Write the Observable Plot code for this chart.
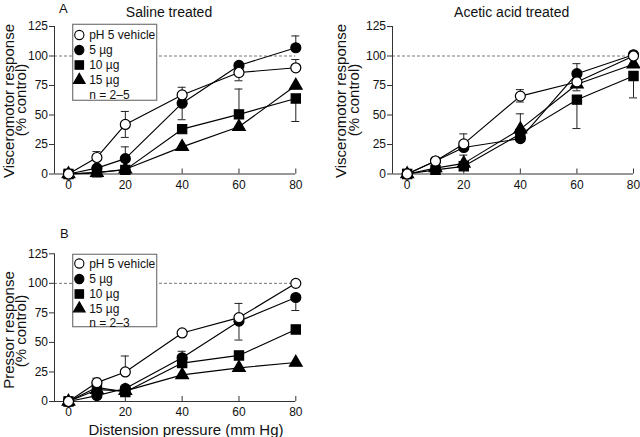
<!DOCTYPE html>
<html><head><meta charset="utf-8">
<script src="https://cdn.jsdelivr.net/npm/d3@7"></script>
<script src="https://cdn.jsdelivr.net/npm/@observablehq/plot@0.6"></script>
<style>
body{margin:0;background:#fff;}
#chart{position:relative;width:640px;height:437px;overflow:hidden;background:#fff;font-family:"Liberation Sans",Arial,Helvetica,sans-serif;}
#chart > svg{position:absolute;}
</style></head><body><div id="chart"></div>
<script>
// ---------- data ----------
const pressures = [0, 10, 20, 40, 60, 80];
const xTicks = [0, 20, 40, 60, 80];
const yTicks = [0, 25, 50, 75, 100, 125];
const seriesNames = ["pH 5 vehicle", "5 µg", "10 µg", "15 µg"];

// Panel A, saline treated (visceromotor response, % control)
const salineVehicle = [0, 14, 42, 67, 86, 90];
const saline5 = [0, 5, 13, 60, 92, 107];
const saline10 = [0, 1.5, 3.5, 38, 50.5, 64];
const saline15 = [0, 1, 4, 23, 40, 75];
const salineErr = [
  {x: 0, s: 0, end: 4}, {x: 10, s: 0, end: 19}, {x: 20, s: 0, end: 53}, {x: 20, s: 0, end: 31},
  {x: 40, s: 0, end: 73.5}, {x: 60, s: 0, end: 79}, {x: 80, s: 0, end: 97},
  {x: 20, s: 1, end: 23}, {x: 40, s: 1, end: 46}, {x: 80, s: 1, end: 117},
  {x: 60, s: 2, end: 72}, {x: 80, s: 2, end: 44.5}
];

// Panel A, acetic acid treated
const aceticVehicle = [0, 11, 25.5, 66, 78, 100];
const acetic5 = [0, 11, 22.5, 30, 85, 101];
const acetic10 = [0, 3.5, 6.5, 34, 63, 83];
const acetic15 = [0, 5, 9, 38, 76, 93];
const aceticErr = [
  {x: 0, s: 0, end: 4}, {x: 20, s: 0, end: 34}, {x: 20, s: 3, end: 16},
  {x: 40, s: 0, end: 71.5}, {x: 40, s: 0, end: 61}, {x: 40, s: 3, end: 51},
  {x: 60, s: 1, end: 93.5}, {x: 60, s: 2, end: 38.5}, {x: 60, s: 3, end: 70.5},
  {x: 80, s: 2, end: 64.5}
];

// Panel B, pressor response
const pressorVehicle = [0, 16, 25, 58, 71, 100];
const pressor5 = [0, 5, 11, 37, 68, 88];
const pressor10 = [0, 12, 8, 32.5, 39, 61];
const pressor15 = [0, 10, 9, 22.5, 28.5, 33];
const pressorErr = [
  {x: 0, s: 0, end: 4}, {x: 10, s: 0, end: 19.7}, {x: 20, s: 0, end: 38.5},
  {x: 40, s: 1, end: 42.5}, {x: 60, s: 0, end: 83}, {x: 60, s: 1, end: 52}, {x: 80, s: 1, end: 77}
];

// ---------- styles ----------
const FONT = '"Liberation Sans", Arial, Helvetica, sans-serif';
const symStyles = [
  {symbol: "circle", fill: "white", r: 5},
  {symbol: "circle", fill: "black", r: 5},
  {symbol: "square", fill: "black", r: 5.2},
  {symbol: "triangle", fill: "black", r: 4.7}
];

function toRows(seriesList) {
  const rows = [];
  seriesList.forEach((vals, s) => vals.forEach((v, i) => rows.push({x: pressures[i], y: v, s})));
  return rows;
}

function makePanel(o) {
  const rows = toRows(o.series);
  const errs = o.errs.map(e => ({...e, y: o.series[e.s][pressures.indexOf(e.x)]}));
  const pxPerX = (o.x80 - o.x0) / 80;
  const xmin = -(o.x0 - o.axisX) / pxPerX;
  const plotH = o.height - o.mTop - o.mBottom;
  const pxPerY = plotH / 125;
  const capHalf = 4 / pxPerX;
  const tickLen = 5 / pxPerY;
  const marks = [
    Plot.ruleY([100], {x1: xmin, x2: 80, stroke: "#777", strokeWidth: 1, strokeDasharray: "3,2"}),
    Plot.ruleX([xmin], {y1: 0, y2: 125, stroke: "#333"}),
    Plot.ruleY([0], {x1: xmin, x2: 80, stroke: "#333"}),
    Plot.ruleX(xTicks, {y1: 0, y2: tickLen, stroke: "#333"}),
    Plot.axisY({ticks: yTicks, tickSize: 5, tickPadding: 1.5, label: null, fontSize: 12, stroke: "#333"}),
    Plot.axisX({ticks: xTicks, tickSize: 0, tickPadding: 6, label: null, fontSize: 12}),
    Plot.ruleX(errs, {x: "x", y1: "y", y2: "end", stroke: "#222", strokeWidth: 1}),
    Plot.ruleY(errs, {y: "end", x1: d => d.x - capHalf, x2: d => d.x + capHalf, stroke: "#222", strokeWidth: 1}),
    Plot.line(rows, {x: "x", y: "y", z: "s", stroke: "black", strokeWidth: 1.15})
  ];
  [3, 2, 1, 0].forEach(s => {
    const st = symStyles[s];
    marks.push(Plot.dot(rows.filter(d => d.s === s), {x: "x", y: "y", symbol: st.symbol, r: st.r, fill: st.fill, stroke: "black", strokeWidth: 1.2}));
  });
  const svg = Plot.plot({
    width: o.width, height: o.height,
    marginLeft: o.axisX - o.left, marginRight: o.left + o.width - o.x80,
    marginTop: o.mTop, marginBottom: o.mBottom,
    x: {domain: [xmin, 80], axis: null},
    y: {domain: [0, 125], axis: null},
    style: {fontFamily: FONT, fontSize: "12px", color: "#111", background: "transparent", overflow: "visible"},
    marks
  });
  svg.style.left = o.left + "px";
  svg.style.top = o.top + "px";
  document.getElementById("chart").appendChild(svg);
}

makePanel({series: [salineVehicle, saline5, saline10, saline15], errs: salineErr,
  left: 0, top: 0, width: 320, height: 200, axisX: 54, x0: 68, x80: 295.3, mTop: 26, mBottom: 26.5});
makePanel({series: [aceticVehicle, acetic5, acetic10, acetic15], errs: aceticErr,
  left: 320, top: 0, width: 320, height: 200, axisX: 392, x0: 406.7, x80: 633, mTop: 26, mBottom: 26.5});
makePanel({series: [pressorVehicle, pressor5, pressor10, pressor15], errs: pressorErr,
  left: 0, top: 200, width: 320, height: 237, axisX: 54, x0: 68, x80: 295.3, mTop: 53.3, mBottom: 36});

// ---------- overlay text & legends ----------
const ov = d3.select("#chart").append("svg")
  .attr("width", 640).attr("height", 437)
  .style("left", "0px").style("top", "0px")
  .style("font-family", FONT).style("fill", "#111");

function txt(x, y, s, size, anchor = "start", rot = 0) {
  const t = ov.append("text").attr("font-size", size).attr("text-anchor", anchor).text(s);
  if (rot) t.attr("transform", `translate(${x},${y}) rotate(${rot})`);
  else t.attr("x", x).attr("y", y);
  return t;
}

txt(59, 13, "A", 13);
txt(60, 237.7, "B", 13);
txt(169, 17, "Saline treated", 14, "middle");
txt(511.7, 17, "Acetic acid treated", 14, "middle");
txt(186, 435, "Distension pressure (mm Hg)", 15, "middle");
txt(13.5, 101, "Visceromotor response", 15, "middle", -90);
txt(26, 100, "(% control)", 15, "middle", -90);
txt(346, 101, "Visceromotor response", 15, "middle", -90);
txt(359, 100, "(% control)", 15, "middle", -90);
txt(13.5, 330, "Pressor response", 15, "middle", -90);
txt(26, 331, "(% control)", 15, "middle", -90);

function legend(x, y, w, h, rowYs, nText) {
  ov.append("rect").attr("x", x).attr("y", y).attr("width", w).attr("height", h)
    .attr("fill", "white").attr("stroke", "#777").attr("stroke-width", 1.2);
  seriesNames.forEach((name, i) => {
    const st = symStyles[i];
    const sym = st.symbol === "circle" ? d3.symbolCircle : st.symbol === "square" ? d3.symbolSquare : d3.symbolTriangle;
    ov.append("path").attr("d", d3.symbol(sym, Math.PI * st.r * st.r * 0.85)())
      .attr("transform", `translate(${x + 6.6},${rowYs[i]})`)
      .attr("fill", st.fill).attr("stroke", "black").attr("stroke-width", 1.1);
    txt(x + 16.5, rowYs[i] + 4.3, name, 12);
  });
  txt(x + 16.5, rowYs[4] + 4.3, nText, 12);
}
legend(72.7, 24.3, 84, 76, [35, 50, 65, 80, 94.5], "n = 2–5");
legend(72.7, 254.3, 84, 72.4, [263.5, 279, 294, 308.5, 322.7], "n = 2–3");
</script></body></html>
